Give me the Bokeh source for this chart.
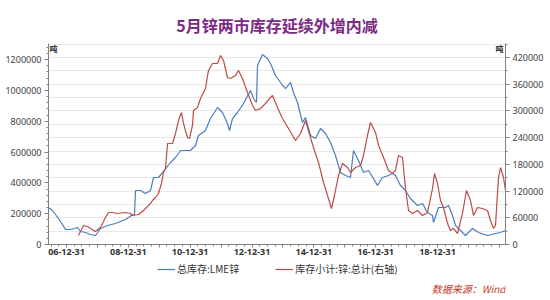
import numpy as np
from bokeh.plotting import figure
from bokeh.layouts import column
from bokeh.models import (Range1d, LinearAxis, FixedTicker, SingleIntervalTicker,
                          Legend, LegendItem, Label, BasicTickFormatter)
from bokeh.embed import file_html
from bokeh.resources import INLINE

# ---- data ----
# x positions in decimal years on the chart's time axis
lme_year = [2006.418, 2006.547, 2006.741, 2006.871, 2006.968, 2007.129, 2007.259, 2007.356,
            2007.453, 2007.614, 2007.776, 2007.938, 2008.100, 2008.326, 2008.585, 2008.908,
            2009.102, 2009.199, 2009.232, 2009.393, 2009.555, 2009.717, 2009.814, 2009.975,
            2010.105, 2010.363, 2010.525, 2010.687, 2011.010, 2011.172, 2011.269, 2011.495,
            2011.657, 2011.884, 2012.045, 2012.207, 2012.272, 2012.369, 2012.530, 2012.724,
            2012.951, 2013.048, 2013.145, 2013.177, 2013.339, 2013.501, 2013.598, 2013.759,
            2013.921, 2014.083, 2014.244, 2014.341, 2014.471, 2014.632, 2014.730, 2014.891,
            2015.053, 2015.215, 2015.376, 2015.538, 2015.700, 2015.861, 2016.023, 2016.185,
            2016.282, 2016.444, 2016.605, 2016.767, 2016.929, 2017.058, 2017.220, 2017.414,
            2017.543, 2017.640, 2017.802, 2017.964, 2018.125, 2018.352, 2018.513, 2018.675,
            2018.837, 2018.869, 2019.031, 2019.257, 2019.354, 2019.484, 2019.581, 2019.742,
            2019.904, 2020.130, 2020.325, 2020.616, 2020.874, 2021.036, 2021.198]
lme_stock = [240000, 220500, 168600, 129700, 97300, 97300, 103800, 110300,
             84300, 77800, 64900, 58400, 103800, 123200, 136200, 162200,
             188100, 194600, 350200, 350200, 330800, 350200, 434600, 434600,
             467000, 531900, 564300, 609700, 609700, 642100, 707000, 739400,
             817200, 888600, 856200, 784800, 739400, 817200, 856200, 914500,
             998800, 947000, 921000, 1161000, 1232300, 1206400, 1174000, 1096100,
             1050700, 1011800, 1050700, 985900, 921000, 791300, 823700, 707000,
             687500, 752400, 719900, 661600, 577300, 467000, 447500, 434600,
             609700, 544800, 467000, 480000, 428100, 382700, 434600, 447500,
             460500, 447500, 382700, 350200, 298400, 253000, 265900, 207600,
             188100, 142700, 240000, 240000, 253000, 188100, 123200, 90800,
             58400, 103800, 77800, 58400, 71300, 77800, 90800]

shfe_year = [2007.388, 2007.550, 2007.679, 2007.776, 2007.938, 2008.100, 2008.261, 2008.358,
             2008.488, 2008.649, 2008.908, 2009.070, 2009.135, 2009.329, 2009.490, 2009.652,
             2009.717, 2009.781, 2009.878, 2009.975, 2010.072, 2010.137, 2010.202, 2010.267,
             2010.428, 2010.525, 2010.622, 2010.719, 2010.784, 2010.913, 2010.978, 2011.075,
             2011.107, 2011.237, 2011.334, 2011.495, 2011.592, 2011.722, 2011.884, 2011.981,
             2012.078, 2012.207, 2012.304, 2012.466, 2012.563, 2012.692, 2012.854, 2013.015,
             2013.113, 2013.274, 2013.436, 2013.598, 2013.662, 2013.824, 2013.986, 2014.180,
             2014.406, 2014.568, 2014.730, 2014.891, 2014.988, 2015.150, 2015.312, 2015.473,
             2015.570, 2015.667, 2015.797, 2015.926, 2016.088, 2016.185, 2016.347, 2016.508,
             2016.605, 2016.735, 2016.832, 2016.993, 2017.091, 2017.188, 2017.317, 2017.414,
             2017.543, 2017.640, 2017.737, 2017.867, 2017.964, 2018.061, 2018.190, 2018.352,
             2018.513, 2018.675, 2018.837, 2018.902, 2018.999, 2019.096, 2019.193, 2019.322,
             2019.419, 2019.516, 2019.645, 2019.807, 2019.936, 2020.066, 2020.163, 2020.292,
             2020.454, 2020.616, 2020.713, 2020.810, 2020.874, 2020.972, 2021.036, 2021.133,
             2021.198]
shfe_stock = [20200, 42700, 40400, 36000, 29200, 38200, 60700, 71900,
              71900, 69700, 71900, 69700, 65200, 67400, 76400, 87600,
              92100, 98900, 105600, 114600, 137100, 161800, 170800, 226900,
              226900, 249400, 278600, 296600, 271900, 240400, 238200, 267400,
              301100, 307800, 328100, 350500, 391000, 406700, 406700, 424700,
              413400, 375200, 373000, 379700, 391000, 373000, 341500, 312300,
              301100, 305600, 316800, 330300, 334800, 307800, 283100, 260700,
              233700, 249400, 278600, 240400, 218000, 184300, 139300, 103400,
              80900, 110100, 155000, 182000, 173000, 161800, 173000, 177500,
              200000, 244900, 274100, 251700, 222500, 206700, 184300, 166300,
              159500, 166300, 200000, 195500, 125800, 76400, 69700, 76400,
              65200, 71900, 125800, 159500, 137100, 98900, 83100, 47200,
              31500, 36000, 24700, 69700, 121300, 98900, 65200, 83100,
              80900, 76400, 53900, 36000, 42700, 150500, 173000, 150500,
              121300]

tick_years = [2007, 2009, 2011, 2013, 2015, 2017, 2019]
tick_labels = ["06-12-31", "08-12-31", "10-12-31", "12-12-31", "14-12-31", "16-12-31", "18-12-31"]

series_names = ["总库存:LME锌", "库存小计:锌:总计(右轴)"]
title_text = "5月锌两市库存延续外增内减"
source_text = "数据来源：Wind"
unit_text = "吨"

# ---- styling ----
CJK = "Noto Sans CJK SC"
NUM = "Noto Sans"
BLUE = "#4A7EBB"
RED = "#BE4B48"
AXIS = "#808080"

X0, X1 = 2006.418, 2021.198
RIGHT_MAX = 451600
LEFT_MAX = 1303800
FRAME_W, BORDER_L, BORDER_R = 457, 48, 45

# ================= main chart =================
p = figure(frame_width=FRAME_W, frame_height=201, output_backend="svg", toolbar_location=None,
           x_range=Range1d(X0, X1), y_range=Range1d(0, RIGHT_MAX),
           y_axis_location="right",
           min_border_left=BORDER_L, min_border_right=BORDER_R,
           min_border_top=43, min_border_bottom=16)
p.extra_y_ranges = {"lme": Range1d(0, LEFT_MAX)}
p.outline_line_color = None
p.background_fill_color = "white"
p.border_fill_color = "white"

# title
p.title.text = title_text
p.title.align = "center"
p.title.text_font = CJK
p.title.text_font_size = "16px"
p.title.text_font_style = "bold"
p.title.text_color = "#7B2A86"
p.title.standoff = 13

# grid
p.xgrid.visible = False
p.ygrid.ticker = SingleIntervalTicker(interval=30000)
p.ygrid.grid_line_color = "#e8e8e8"
p.ygrid.grid_line_width = 1

# x axis
major = list(range(2007, 2022))
minor = [y + q / 4 for y in range(2006, 2022) for q in range(4)]
xa = p.xaxis[0]
xa.ticker = FixedTicker(ticks=major, minor_ticks=minor)
overrides = {y: "" for y in major}
for y, lab in zip(tick_years, tick_labels):
    overrides[y] = lab
xa.major_label_overrides = overrides
xa.major_label_text_font = NUM
xa.major_label_text_font_size = "9px"
xa.major_label_text_font_style = "bold"
xa.major_label_text_color = "#333333"
xa.major_label_standoff = 1

# right axis (default y axis)
ra = p.yaxis[0]
ra.ticker = SingleIntervalTicker(interval=60000, num_minor_ticks=2)
ra.formatter = BasicTickFormatter(use_scientific=False)

# left axis
la = LinearAxis(y_range_name="lme",
                ticker=SingleIntervalTicker(interval=200000, num_minor_ticks=5),
                formatter=BasicTickFormatter(use_scientific=False))
p.add_layout(la, "left")

for ax in (xa, ra, la):
    ax.axis_line_color = AXIS
    ax.major_tick_line_color = AXIS
    ax.minor_tick_line_color = AXIS
    ax.major_tick_in = 0
    ax.major_tick_out = 4
    ax.minor_tick_in = 0
    ax.minor_tick_out = 2
xa.major_tick_out = 3
for ax in (ra, la):
    ax.major_label_text_font = NUM
    ax.major_label_text_font_size = "9px"
    ax.major_label_text_color = "#404040"
    ax.major_label_standoff = 3

# lines
r_lme = p.line(lme_year, lme_stock, y_range_name="lme", line_color=BLUE, line_width=1.2)
r_shfe = p.line(shfe_year, shfe_stock, line_color=RED, line_width=1.2)

# unit labels
p.add_layout(Label(x=X0, y=LEFT_MAX, y_range_name="lme", text=unit_text, x_offset=1, y_offset=1,
                   text_font=CJK, text_font_size="8px", text_font_style="bold",
                   text_baseline="top", text_color="#333333"))
p.add_layout(Label(x=X1, y=RIGHT_MAX, text=unit_text, x_offset=-2, y_offset=1,
                   text_font=CJK, text_font_size="8px", text_font_style="bold",
                   text_align="right", text_baseline="top", text_color="#333333"))

# ================= legend / source strip =================
FOOT_H = 40
f = figure(frame_width=FRAME_W, frame_height=FOOT_H, output_backend="svg", toolbar_location=None,
           x_range=Range1d(0, 1), y_range=Range1d(0, 1),
           x_axis_location=None, y_axis_location=None,
           min_border_left=BORDER_L, min_border_right=BORDER_R,
           min_border_top=0, min_border_bottom=0)
f.outline_line_color = None
f.grid.visible = False
f.background_fill_color = "white"
f.border_fill_color = "white"

# legend proxies (no visible points)
k_lme = f.line([np.nan], [np.nan], line_color=BLUE, line_width=1.2)
k_shfe = f.line([np.nan], [np.nan], line_color=RED, line_width=1.2)
legend = Legend(items=[LegendItem(label=series_names[0], renderers=[k_lme]),
                       LegendItem(label=series_names[1], renderers=[k_shfe])],
                orientation="horizontal", location=(109, 24),
                border_line_color=None, background_fill_alpha=0,
                label_text_font=CJK, label_text_font_size="10px", label_text_color="#333333",
                glyph_width=18, glyph_height=10, label_height=10, label_standoff=2,
                spacing=36, padding=0, margin=0)
f.add_layout(legend)

f.add_layout(Label(x=FRAME_W, y=12, x_units="screen", y_units="screen", text=source_text,
                   text_align="right", text_baseline="middle",
                   text_font=CJK, text_font_size="10px", text_font_style="italic",
                   text_color="#C0392B"))

layout = column(p, f, spacing=0)
open("out.html", "w").write(file_html(layout, INLINE))
